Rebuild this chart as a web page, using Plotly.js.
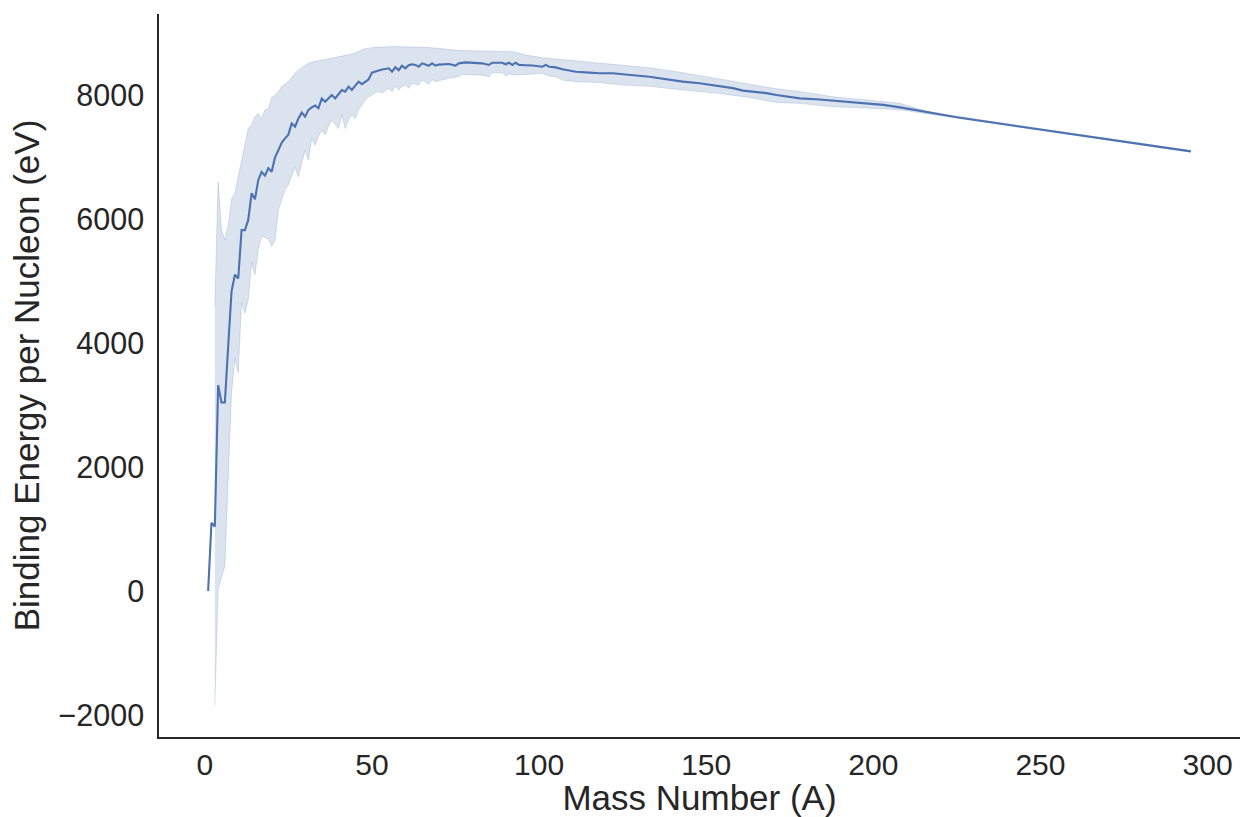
<!DOCTYPE html>
<html>
<head>
<meta charset="utf-8">
<script src="https://cdn.plot.ly/plotly-3.0.1.min.js"></script>
<style>
  html, body { margin: 0; padding: 0; background: #ffffff; }
  #chart { width: 1241px; height: 817px; }
</style>
</head>
<body>
<div id="chart"></div>
<script>
// Mean binding energy per nucleon by mass number (line)
const lineA = [1,2,3,4,5,6,7,8,9,10,11,12,13,14,15,16,17,18,19,20,21,22,23,24,25,26,27,28,29,30,
  31,32,33,34,35,36,37,38,39,40,41,42,43,44,45,46,47,48,49,50,51,52,53,54,55,56,57,58,59,60,
  61,62,63,64,65,66,67,68,69,70,72,73,75,76,78,80,83,85,86,89,90,91,92,93,94,96,98,
  101,102,103,105,107,109,111,115,118,122,125,129,133,138,143,148,153,158,161,165,168,171,175,178,
  183,188,193,198,203,208,212,216,220,225,230,235,240,245,250,255,260,265,270,275,280,285,290,295];
const lineV = [0,1100,1040,3320,3040,3040,3950,4830,5100,5040,5820,5820,5985,6415,6318,6630,6760,6700,6820,6760,
  6990,7100,7230,7300,7360,7540,7490,7620,7715,7650,7760,7800,7830,7785,7945,7890,7950,8000,7945,8020,
  8080,8055,8135,8080,8150,8215,8175,8210,8250,8360,8380,8400,8410,8420,8430,8375,8445,8400,8470,8430,
  8480,8495,8485,8455,8510,8490,8470,8510,8475,8490,8495,8500,8475,8510,8525,8515,8510,8485,8520,8520,8495,8520,8485,8520,8485,8480,8475,
  8455,8485,8455,8445,8415,8400,8375,8360,8350,8350,8330,8315,8295,8250,8215,8190,8145,8110,8070,8050,8030,8000,7975,7945,
  7930,7910,7880,7865,7840,7800,7760,7720,7680,7640,7600,7560,7520,7485,7450,7410,7370,7330,7290,7250,7210,7170,7130,7090];

// 95% confidence band
const bandA = [3,4,5,6,7,8,9,10,11,12,13,14,15,16,17,18,19,20,21,22,23,24,25,26,27,28,29,30,
  31,32,33,34,35,36,37,38,39,40,41,42,43,44,45,46,47,48,49,50,51,52,53,54,55,56,57,58,59,60,
  61,62,64,65,67,68,69,73,76,77,83,85,86,89,90,91,93,96,101,103,105,107,111,118,125,133,143,153,163,171,178,188,198,
  208,212,216,220,230,240,250,260,270,280,290,295];
const bandUpper = [4600,6600,5820,5660,5900,6320,6420,6700,6950,7200,7460,7520,7650,7700,7620,7760,7770,7960,7990,8050,
  8135,8180,8215,8280,8350,8400,8440,8480,8510,8530,8540,8550,8560,8570,8580,8590,8600,8610,8625,8640,
  8650,8660,8680,8700,8730,8750,8755,8765,8770,8770,8775,8780,8780,8780,8780,8780,8775,8775,
  8775,8775,8770,8770,8765,8760,8750,8725,8720,8718,8712,8712,8710,8710,8705,8700,8690,8645,8600,8590,8580,8570,8550,8520,8490,8440,8360,8270,8175,8100,8055,7970,7920,
  7865,7800,7740,7695,7615,7535,7465,7385,7305,7225,7145,7100];
const bandLower = [-1840,40,220,400,1800,3200,3750,3520,4650,4480,4700,5300,5100,5500,5720,5700,5680,5560,5650,6145,
  6300,6470,6550,6700,6840,6680,6900,7110,6950,7300,7190,7330,7435,7355,7500,7600,7530,7460,7680,7460,
  7600,7680,7620,7760,7850,7920,7970,8000,8040,8055,8030,8070,8110,8055,8145,8080,8135,8160,
  8110,8190,8160,8240,8175,8250,8215,8270,8295,8330,8320,8295,8360,8360,8305,8340,8320,8330,8350,8305,8295,8240,8215,8200,8160,8140,8080,8030,7960,7880,7865,7810,7790,
  7760,7730,7700,7665,7585,7505,7435,7355,7275,7195,7115,7080];

const xTicks = [0,50,100,150,200,250,300];
const yTicks = [-2000,0,2000,4000,6000,8000];

const blue = '#4c72b0';
const ink = '#262626';
const fontFam = '"Liberation Sans", Arial, "DejaVu Sans", sans-serif';

const band = {
  type: 'scatter', mode: 'lines',
  x: bandA.concat(bandA.slice().reverse()),
  y: bandUpper.concat(bandLower.slice().reverse()),
  fill: 'toself',
  fillcolor: 'rgba(76,114,176,0.2)',
  line: {color: 'rgba(76,114,176,0.2)', width: 1},
  hoverinfo: 'skip', showlegend: false
};
const line = {
  type: 'scatter', mode: 'lines',
  x: lineA, y: lineV,
  line: {color: blue, width: 2.1},
  showlegend: false
};

const layout = {
  width: 1241, height: 817,
  margin: {l: 159, r: 1, t: 14, b: 80},
  paper_bgcolor: '#ffffff', plot_bgcolor: '#ffffff',
  font: {family: fontFam, color: ink, size: 30.5},
  showlegend: false,
  xaxis: {
    range: [-13.7, 309.7], tickvals: xTicks, ticktext: xTicks.map(String),
    showgrid: false, zeroline: false, showline: true, linecolor: ink, linewidth: 1.7,
    ticks: '', ticklabelstandoff: 0,
    tickfont: {size: 30, color: ink},
    title: {text: 'Mass Number (A)', font: {size: 35, color: ink}, standoff: 8}
  },
  yaxis: {
    range: [-2355, 9306], tickvals: yTicks, ticktext: yTicks.map(v => v < 0 ? '\u2212' + Math.abs(v) : String(v)),
    showgrid: false, zeroline: false, showline: true, linecolor: ink, linewidth: 1.7,
    ticks: '', ticklabelstandoff: 7,
    tickfont: {size: 30.5, color: ink},
    title: {text: 'Binding Energy per Nucleon (eV)', font: {size: 35, color: ink}, standoff: 8}
  }
};

Plotly.newPlot('chart', [band, line], layout, {staticPlot: true, displayModeBar: false});
</script>
</body>
</html>
